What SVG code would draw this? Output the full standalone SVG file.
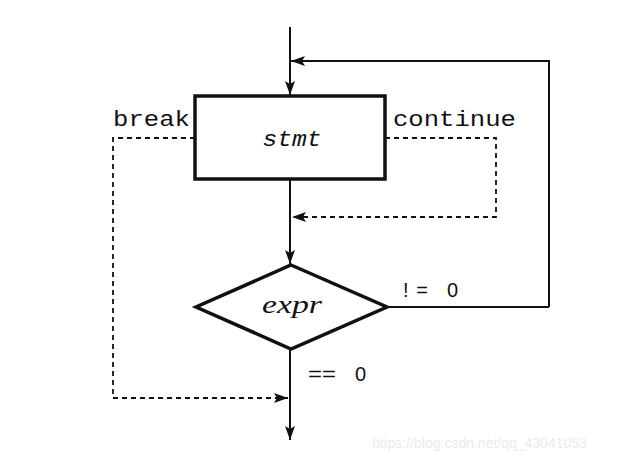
<svg xmlns="http://www.w3.org/2000/svg" width="624" height="464" viewBox="0 0 624 464">
<style>
.ln{fill:none;stroke:#111;stroke-width:2}
.ds{fill:none;stroke:#111;stroke-width:1.8;stroke-dasharray:5,4}
.shape{fill:#fff;stroke:#111;stroke-width:3.5}
.mono{font-family:"Liberation Mono","DejaVu Sans Mono",monospace;font-size:22px;fill:#111}
.lbl{font-family:"Liberation Sans",Arial,sans-serif;font-size:20px;fill:#111}
</style>
<defs>
<marker id="ah" viewBox="0 0 14 10" refX="14" refY="5" markerWidth="14" markerHeight="10" markerUnits="userSpaceOnUse" orient="auto">
<path d="M0,0 L14,5 L0,10 L3,5 Z" fill="#111"/>
</marker>
</defs>
<rect width="624" height="464" fill="#fff"/>
<g id="connectors">
<path class="ln" d="M290,27 V95" marker-end="url(#ah)"/>
<path class="ln" d="M549,307 H549 V61 H291" marker-end="url(#ah)"/>
<path class="ln" d="M387,307 H549"/>
<path class="ln" d="M290,179 V264" marker-end="url(#ah)"/>
<path class="ds" d="M385,138 H496 V217 H292" marker-end="url(#ah)"/>
<path class="ds" d="M195,138 H113 V398 H288" marker-end="url(#ah)"/>
<path class="ln" d="M290,349 V440" marker-end="url(#ah)"/>
</g>
<g id="stmt">
<rect class="shape" x="195" y="96" width="190" height="83"/>
<text class="mono" x="292" y="146" text-anchor="middle" font-style="italic" textLength="59" lengthAdjust="spacingAndGlyphs">stmt</text>
</g>
<g id="expr">
<polygon class="shape" points="291,265 387,307 291,349 196,307"/>
<text x="262" y="313" font-family="'Liberation Serif','Times New Roman',serif" font-style="italic" font-size="26" fill="#111" textLength="60" lengthAdjust="spacingAndGlyphs">expr</text>
</g>
<g id="labels">
<text class="mono" x="113" y="126" textLength="77" lengthAdjust="spacingAndGlyphs">break</text>
<text class="mono" x="393" y="126" textLength="123" lengthAdjust="spacingAndGlyphs">continue</text>
<text class="lbl" x="403" y="297" textLength="25" lengthAdjust="spacing">!=</text>
<text class="lbl" x="447" y="297">0</text>
<text class="lbl" x="308" y="381" textLength="28" lengthAdjust="spacingAndGlyphs">==</text>
<text class="lbl" x="355" y="381">0</text>
</g>
<text x="372" y="448" font-family="'Liberation Sans',Arial,sans-serif" font-size="14" fill="#ebebeb">https://blog.csdn.net/qq_43041053</text>
</svg>
